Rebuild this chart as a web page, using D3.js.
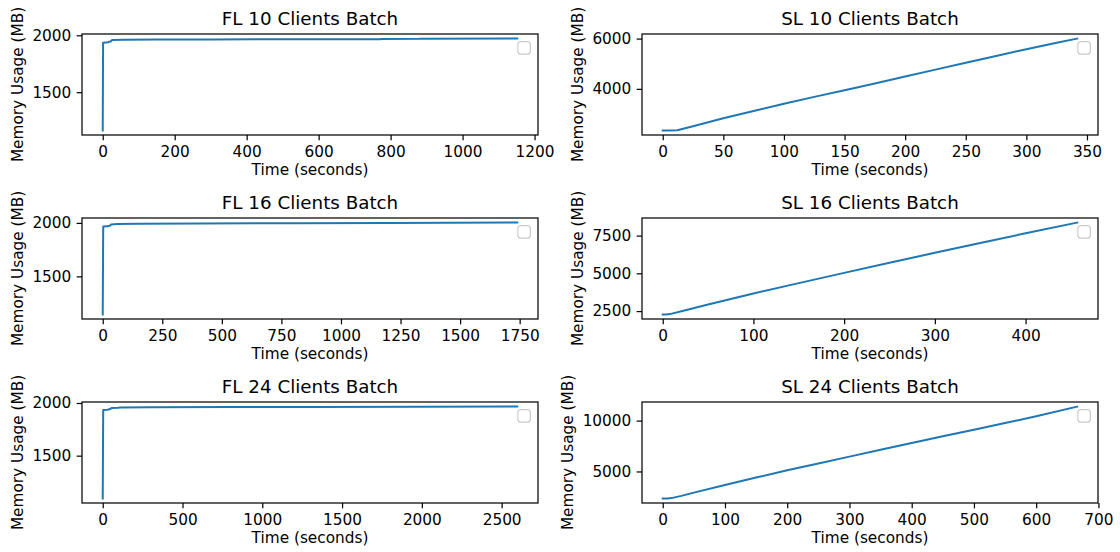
<!DOCTYPE html>
<html>
<head>
<meta charset="utf-8">
<script src="https://cdn.jsdelivr.net/npm/d3@7"></script>
<style>
  html, body { margin: 0; padding: 0; background: #fff; }
  svg { display: block; font-family: "DejaVu Sans", sans-serif; }
</style>
</head>
<body>
<svg id="chart" width="1120" height="552"></svg>
<script>
// ---- Memory usage recordings (time in seconds, memory in MB) ----
const fl10Time = [0, 1, 15, 18, 22, 26, 60, 150, 300, 500, 770, 775, 880, 885, 1152];
const fl10Mem  = [1164, 1935, 1938, 1944, 1946, 1958, 1961, 1963, 1964, 1965, 1966, 1968, 1969, 1970, 1971];

const sl10Time = [0, 5, 12, 25, 50, 75, 100, 125, 150, 175, 200, 225, 250, 275, 300, 325, 342];
const sl10Mem  = [2345, 2345, 2355, 2510, 2826, 3120, 3408, 3680, 3947, 4215, 4487, 4765, 5039, 5310, 5579, 5835, 6000];

const fl16Time = [0, 2, 20, 25, 30, 35, 60, 150, 400, 800, 1200, 1740];
const fl16Mem  = [1144, 1966, 1968, 1972, 1974, 1985, 1989, 1992, 1995, 1998, 2000, 2003];

const sl16Time = [0, 4, 8, 25, 50, 100, 150, 200, 250, 300, 350, 400, 457];
const sl16Mem  = [2280, 2280, 2300, 2560, 2930, 3670, 4350, 5030, 5700, 6360, 7010, 7650, 8360];

const fl24Time = [0, 3, 30, 40, 50, 55, 100, 105, 300, 800, 1300, 2000, 2598];
const fl24Mem  = [1094, 1934, 1937, 1940, 1946, 1952, 1955, 1958, 1960, 1961, 1963, 1964, 1966];

const sl24Time = [0, 8, 14, 30, 50, 100, 150, 200, 250, 300, 350, 400, 450, 500, 550, 600, 666];
const sl24Mem  = [2350, 2350, 2380, 2600, 2920, 3660, 4400, 5110, 5790, 6460, 7130, 7800, 8460, 9110, 9760, 10420, 11380];

// ---- Tick values ----
const fl10XTicks = [0, 200, 400, 600, 800, 1000, 1200];
const sl10XTicks = [0, 50, 100, 150, 200, 250, 300, 350];
const fl16XTicks = [0, 250, 500, 750, 1000, 1250, 1500, 1750];
const sl16XTicks = [0, 100, 200, 300, 400];
const fl24XTicks = [0, 500, 1000, 1500, 2000, 2500];
const sl24XTicks = [0, 100, 200, 300, 400, 500, 600, 700];

const flYTicks   = [1500, 2000];
const sl10YTicks = [4000, 6000];
const sl16YTicks = [2500, 5000, 7500];
const sl24YTicks = [5000, 10000];

const titles = ["FL 10 Clients Batch", "SL 10 Clients Batch",
                "FL 16 Clients Batch", "SL 16 Clients Batch",
                "FL 24 Clients Batch", "SL 24 Clients Batch"];
const xLabel = "Time (seconds)";
const yLabel = "Memory Usage (MB)";

const panels = [
  { title: titles[0], t: fl10Time, m: fl10Mem, xt: fl10XTicks, yt: flYTicks,   col: 0, row: 0 },
  { title: titles[1], t: sl10Time, m: sl10Mem, xt: sl10XTicks, yt: sl10YTicks, col: 1, row: 0 },
  { title: titles[2], t: fl16Time, m: fl16Mem, xt: fl16XTicks, yt: flYTicks,   col: 0, row: 1 },
  { title: titles[3], t: sl16Time, m: sl16Mem, xt: sl16XTicks, yt: sl16YTicks, col: 1, row: 1 },
  { title: titles[4], t: fl24Time, m: fl24Mem, xt: fl24XTicks, yt: flYTicks,   col: 0, row: 2 },
  { title: titles[5], t: sl24Time, m: sl24Mem, xt: sl24XTicks, yt: sl24YTicks, col: 1, row: 2 }
];

// ---- Layout ----
const colLeft = [82, 642];
const rowTop = [34, 218, 402];
const W = 456, H = 101;
const fontSize = 15.3, titleSize = 18.3;
const tickLen = 5.35, tickPad = 5.35, spineW = 1.22;
const lineColor = "#1f77b4";

const svg = d3.select("#chart");
svg.append("rect").attr("width", 1120).attr("height", 552).attr("fill", "#fff");

// 5% margin on each side of the data range
function padded(vals) {
  const [lo, hi] = d3.extent(vals);
  const r = hi - lo;
  return [lo - 0.05 * r, hi + 0.05 * r];
}

panels.forEach((p, i) => {
  const g = svg.append("g")
    .attr("transform", `translate(${colLeft[p.col]},${rowTop[p.row]})`);

  const x = d3.scaleLinear().domain(padded(p.t)).range([0, W]);
  const y = d3.scaleLinear().domain(padded(p.m)).range([H, 0]);

  const clipId = "clip" + i;
  g.append("clipPath").attr("id", clipId)
    .append("rect").attr("width", W).attr("height", H);

  const pts = p.t.map((t, k) => [t, p.m[k]]);
  g.append("path")
    .datum(pts)
    .attr("clip-path", `url(#${clipId})`)
    .attr("fill", "none")
    .attr("stroke", lineColor)
    .attr("stroke-width", 2.0)
    .attr("stroke-linejoin", "round")
    .attr("stroke-linecap", "square")
    .attr("d", d3.line().x(d => x(d[0])).y(d => y(d[1])));

  // empty legend frame in the upper right
  const lb = 12.5, lpad = 7.65;
  g.append("rect")
    .attr("x", W - lpad - lb).attr("y", lpad)
    .attr("width", lb).attr("height", lb)
    .attr("rx", 3).attr("ry", 3)
    .attr("fill", "#fff").attr("fill-opacity", 0.8)
    .attr("stroke", "#cccccc").attr("stroke-width", spineW);

  // x axis
  const gx = g.append("g")
    .attr("transform", `translate(0,${H})`)
    .call(d3.axisBottom(x).tickValues(p.xt).tickFormat(d3.format("d"))
      .tickSize(tickLen).tickPadding(tickPad));
  // y axis
  const gy = g.append("g")
    .call(d3.axisLeft(y).tickValues(p.yt).tickFormat(d3.format("d"))
      .tickSize(tickLen).tickPadding(tickPad));

  [gx, gy].forEach(ax => {
    ax.select(".domain").remove();
    ax.attr("font-family", null).attr("font-size", null);
    ax.selectAll(".tick line").attr("stroke", "#000").attr("stroke-width", spineW);
    ax.selectAll(".tick text").attr("fill", "#000").style("font-size", fontSize + "px");
  });

  // axes frame
  g.append("rect")
    .attr("width", W).attr("height", H)
    .attr("fill", "none").attr("stroke", "#000").attr("stroke-width", spineW);

  // title
  g.append("text")
    .attr("x", W / 2).attr("y", -9.3)
    .attr("text-anchor", "middle")
    .style("font-size", titleSize + "px")
    .attr("fill", "#000")
    .text(p.title);

  // x label
  g.append("text")
    .attr("x", W / 2).attr("y", H + 39.5)
    .attr("text-anchor", "middle")
    .style("font-size", fontSize + "px")
    .attr("fill", "#000")
    .text(xLabel);

  // y label, placed just left of the widest tick label
  let maxW = 0;
  gy.selectAll(".tick text").each(function () {
    maxW = Math.max(maxW, this.getComputedTextLength());
  });
  const yl = -(tickLen + tickPad) - maxW - 6.1 - 3.7;
  g.append("text")
    .attr("transform", `translate(${yl},${H / 2}) rotate(-90)`)
    .attr("text-anchor", "middle")
    .style("font-size", fontSize + "px")
    .attr("fill", "#000")
    .text(yLabel);
});
</script>
</body>
</html>
